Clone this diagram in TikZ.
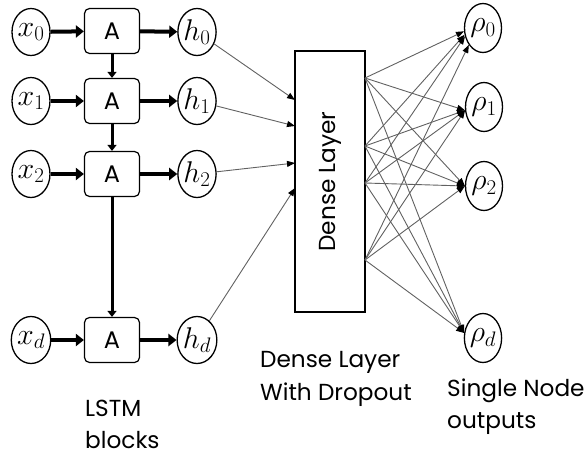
\RequirePackage{fix-cm}
\documentclass[tikz,border=0pt]{standalone}
\usepackage{fontspec}
\newfontfamily\gfont{Poppins}
\usetikzlibrary{arrows.meta,shapes.geometric}
\begin{document}
\begin{tikzpicture}[x=1pt,y=-1pt,
  io/.style={ellipse, draw, line width=1.3pt, minimum width=38pt, minimum height=47pt, inner sep=0pt, font=\fontsize{30}{30}\selectfont},
  outn/.style={ellipse, draw, line width=1.3pt, minimum width=37pt, minimum height=49pt, inner sep=0pt, font=\fontsize{30}{30}\selectfont},
  cell/.style={rectangle, rounded corners=5pt, draw, line width=1.2pt, minimum width=55pt, minimum height=45pt, inner sep=0pt, font=\gfont\fontsize{24}{24}\selectfont},
  thickarrow/.style={line width=4pt, -{Triangle[length=8pt,width=12pt]}},
  vertarrow/.style={line width=3pt, -{Triangle[length=6pt,width=9pt]}},
  thinarrow/.style={draw=black!62, line width=0.9pt, -{Triangle[length=8pt,width=6pt,color=black]}},
  lbl/.style={font=\gfont\fontsize{23.2}{23.2}\selectfont, anchor=base west, inner sep=0pt}
]
\useasboundingbox (0,0) rectangle (587,455);

% LSTM rows
\node[io] (x0) at (31,32) {$x_0$};
\node[io] (x1) at (31,101) {$x_1$};
\node[io] (x2) at (31,174) {$x_2$};
\node[io] (xd) at (31,340) {$x_d$};
\node[cell] (A0) at (112,31) {A};
\node[cell] (A1) at (112,101) {A};
\node[cell] (A2) at (112,174) {A};
\node[cell] (Ad) at (112,340) {A};
\node[io] (h0) at (197,32) {$h_0$};
\node[io] (h1) at (197,101) {$h_1$};
\node[io] (h2) at (197,174) {$h_2$};
\node[io] (hd) at (197,340) {$h_d$};

\foreach \r in {0,1,2,d}{
  \draw[thickarrow] (x\r) -- (A\r);
  \draw[thickarrow] (A\r) -- (h\r);
}
\draw[vertarrow] (A0) -- (A1);
\draw[vertarrow] (A1) -- (A2);
\draw[vertarrow] (A2) -- (Ad);

% Dense layer
\node[draw, line width=1.2pt, minimum width=70pt, minimum height=261pt, inner sep=0pt] (dense) at (330,181.5) {};
\node[rotate=90, font=\gfont\fontsize{23.2}{23.2}\selectfont, inner sep=0pt] (dlabel) at (dense.center) {Dense Layer};

\coordinate (t0) at (295,100);
\coordinate (t1) at (295,126);
\coordinate (t2) at (295,163);
\coordinate (t3) at (295,188);
\draw[thinarrow] (h0) -- (t0);
\draw[thinarrow] (h1) -- (t1);
\draw[thinarrow] (h2) -- (t2);
\draw[thinarrow] (hd) -- (t3);

% outputs
\node[outn] (o0) at (483,28) {$\rho_0$};
\node[outn] (o1) at (484,107) {$\rho_1$};
\node[outn] (o2) at (484,186) {$\rho_2$};
\node[outn] (od) at (483,338) {$\rho_d$};

\coordinate (s1) at (365,78);
\coordinate (s2) at (365,146);
\coordinate (s3) at (365,183);
\coordinate (s4) at (365,260);

\draw[thinarrow] (s1) -- (o0.190);
\draw[thinarrow] (s2) -- (o0.200);
\draw[thinarrow] (s3) -- (o0.205);
\draw[thinarrow] (s4) -- (o0.230);
\foreach \s in {s1,s2,s3,s4}{
  \draw[thinarrow] (\s) -- (o1.190);
  \draw[thinarrow] (\s) -- (o2.180);
  \draw[thinarrow] (\s) -- (od.165);
}

% labels
\node[lbl] (l1) at (85,416) {LSTM};
\node[lbl] (l2) at (85,448) {blocks};
\node[lbl] (l3) at (260,367) {Dense Layer};
\node[lbl] (l4) at (260,400) {With Dropout};
\node[lbl] (l5) at (447,396) {Single Node};
\node[lbl] (l6) at (447,428) {outputs};
\end{tikzpicture}
\end{document}
